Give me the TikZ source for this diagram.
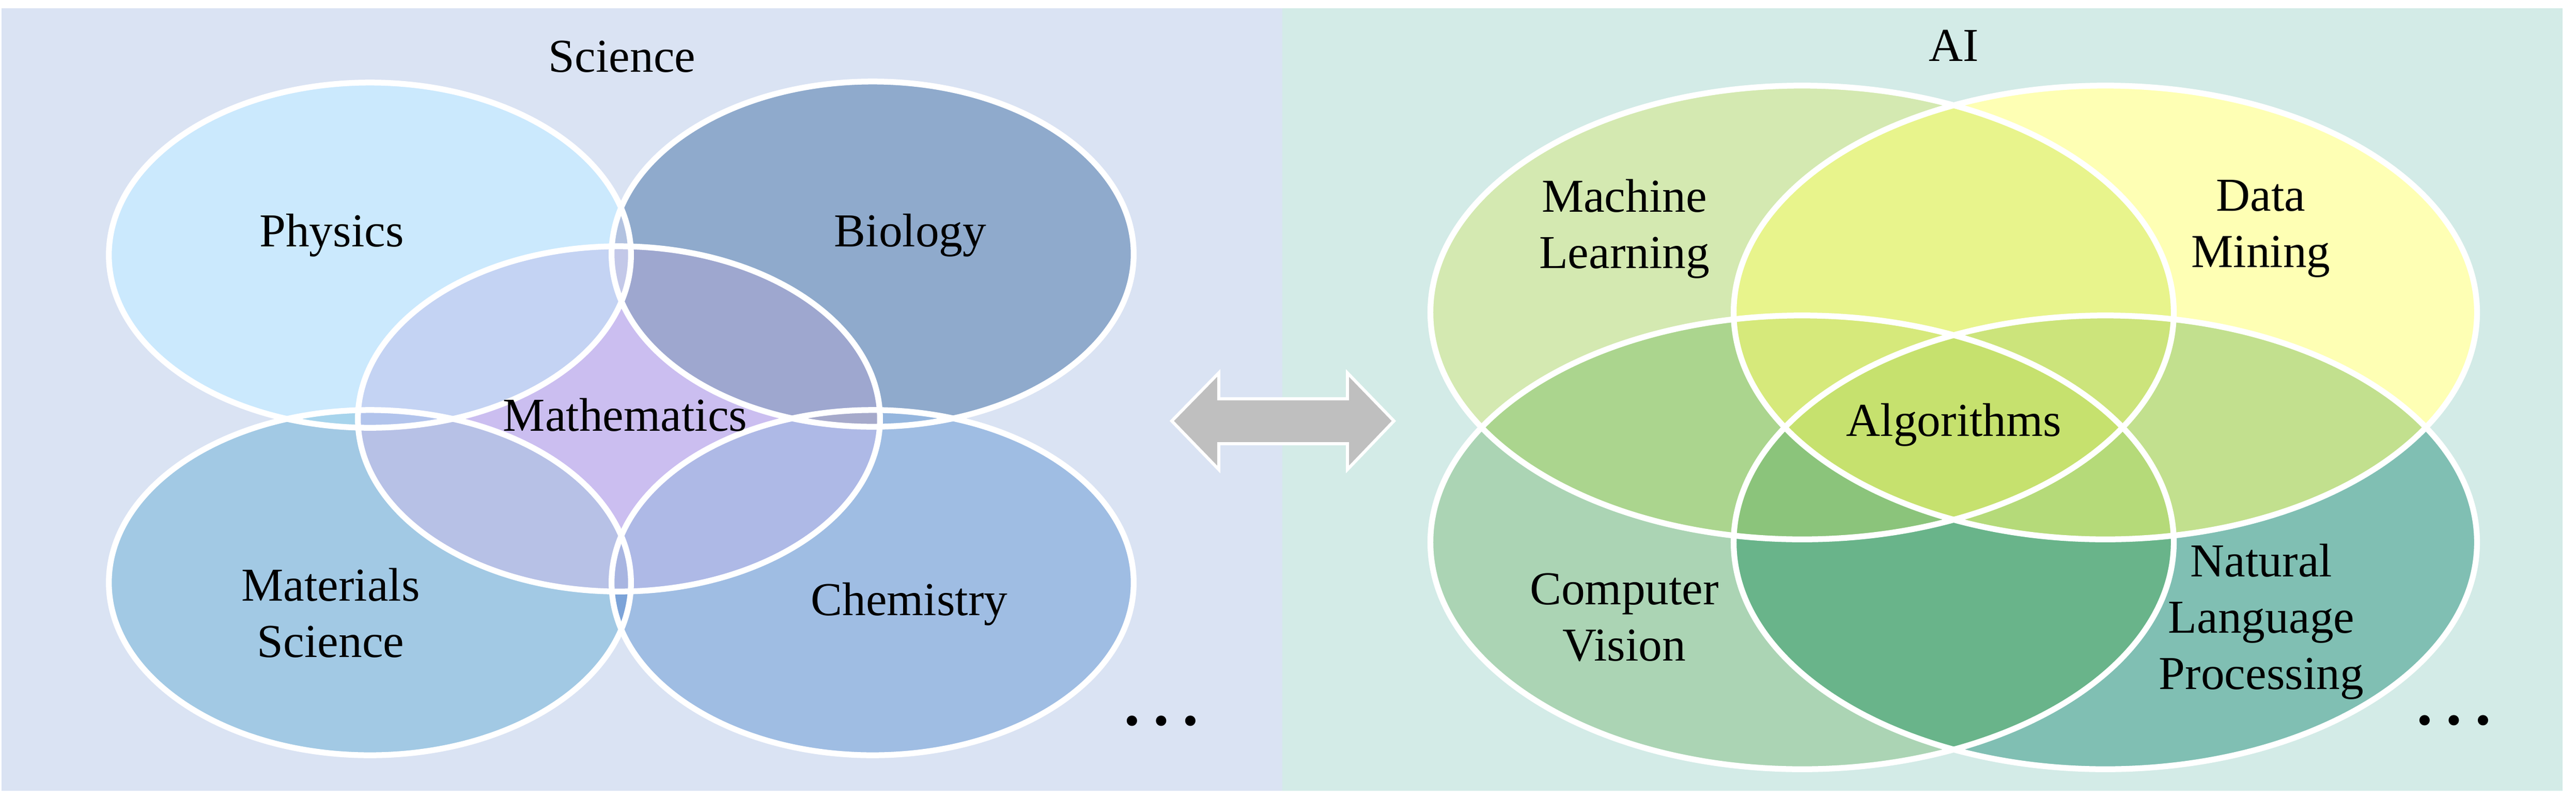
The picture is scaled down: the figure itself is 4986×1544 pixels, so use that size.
\documentclass[tikz,border=0pt]{standalone}
\usepackage{fontspec}
\setmainfont{Liberation Serif}

\definecolor{sciback}{HTML}{DAE3F3}
\definecolor{aiback}{HTML}{D3EBE7}
% science side
\definecolor{physcol}{HTML}{CBE9FD}
\definecolor{biocol}{HTML}{8FAACC}
\definecolor{matcol}{HTML}{A2C9E4}
\definecolor{chemcol}{HTML}{9FBDE3}
\definecolor{mathcol}{HTML}{CBBEF0}
\definecolor{physbio}{HTML}{B2C2E0}
\definecolor{physmat}{HTML}{A7D4EC}
\definecolor{biochem}{HTML}{95B6DE}
\definecolor{matchem}{HTML}{7CA3D8}
\definecolor{mathphys}{HTML}{C4D3F3}
\definecolor{mathbio}{HTML}{9EA7CF}
\definecolor{mathmat}{HTML}{B7C1E6}
\definecolor{mathchem}{HTML}{AEB9E6}
\definecolor{mathphysbio}{HTML}{C3C8E8}
\definecolor{mathphysmat}{HTML}{B2C4EC}
\definecolor{mathbiochem}{HTML}{A6AACB}
\definecolor{mathmatchem}{HTML}{A8B5E1}
% AI side
\definecolor{mlcol}{HTML}{D4E9B1}
\definecolor{dmcol}{HTML}{FEFFB4}
\definecolor{cvcol}{HTML}{ABD4B4}
\definecolor{nlpcol}{HTML}{80BFB3}
\definecolor{mldm}{HTML}{E8F48C}
\definecolor{mlcv}{HTML}{ABD58E}
\definecolor{dmnlp}{HTML}{C2E08E}
\definecolor{cvnlp}{HTML}{69B48A}
\definecolor{mldmcv}{HTML}{D6E97B}
\definecolor{mldmnlp}{HTML}{CCE47B}
\definecolor{mlcvnlp}{HTML}{8BC47B}
\definecolor{dmcvnlp}{HTML}{B5DA79}
\definecolor{allfour}{HTML}{C6E16E}
\definecolor{arrowgray}{HTML}{BFBFBF}

\def\ePhys{(716,494) ellipse [x radius=5.05cm, y radius=3.34cm]}
\def\eBio{(1689,492) ellipse [x radius=5.05cm, y radius=3.34cm]}
\def\eMat{(716,1128) ellipse [x radius=5.05cm, y radius=3.34cm]}
\def\eChem{(1689,1128) ellipse [x radius=5.05cm, y radius=3.34cm]}
\def\eMath{(1198,811) ellipse [x radius=5.05cm, y radius=3.34cm]}
\def\eML{(3488,605) ellipse [x radius=7.19cm, y radius=4.39cm]}
\def\eDM{(4075,605) ellipse [x radius=7.19cm, y radius=4.39cm]}
\def\eCV{(3488,1050) ellipse [x radius=7.19cm, y radius=4.39cm]}
\def\eNLP{(4075,1050) ellipse [x radius=7.19cm, y radius=4.39cm]}

\newcommand{\twofill}[3]{\begin{scope}\clip #1;\fill[#3] #2;\end{scope}}
\newcommand{\threefill}[4]{\begin{scope}\clip #1;\clip #2;\fill[#4] #3;\end{scope}}

\begin{document}
\begin{tikzpicture}[x=0.01cm, y=-0.01cm,
    rim/.style={draw=white, line width=3.2pt},
    field/.style={font=\fontsize{26}{31}\selectfont, align=center, inner sep=0pt},
    etc/.style={font=\fontsize{48}{48}\selectfont, inner sep=0pt}]
    \useasboundingbox (0,0) rectangle (4986,1544);
    \fill[sciback] (3,16) rectangle (2482,1531);
    \fill[aiback] (2482,16) rectangle (4960,1531);

    % science
    \fill[physcol] \ePhys;
    \fill[biocol] \eBio;
    \fill[matcol] \eMat;
    \fill[chemcol] \eChem;
    \fill[mathcol] \eMath;
    \twofill{\ePhys}{\eBio}{physbio}
    \twofill{\ePhys}{\eMat}{physmat}
    \twofill{\eBio}{\eChem}{biochem}
    \twofill{\eMat}{\eChem}{matchem}
    \twofill{\eMath}{\ePhys}{mathphys}
    \twofill{\eMath}{\eBio}{mathbio}
    \twofill{\eMath}{\eMat}{mathmat}
    \twofill{\eMath}{\eChem}{mathchem}
    \threefill{\eMath}{\ePhys}{\eBio}{mathphysbio}
    \threefill{\eMath}{\ePhys}{\eMat}{mathphysmat}
    \threefill{\eMath}{\eBio}{\eChem}{mathbiochem}
    \threefill{\eMath}{\eMat}{\eChem}{mathmatchem}
    \foreach \e in {\ePhys,\eBio,\eMat,\eChem,\eMath}
        \draw[rim] \e;

    % AI
    \fill[mlcol] \eML;
    \fill[dmcol] \eDM;
    \fill[cvcol] \eCV;
    \fill[nlpcol] \eNLP;
    \twofill{\eML}{\eDM}{mldm}
    \twofill{\eML}{\eCV}{mlcv}
    \twofill{\eDM}{\eNLP}{dmnlp}
    \twofill{\eCV}{\eNLP}{cvnlp}
    \threefill{\eML}{\eDM}{\eCV}{mldmcv}
    \threefill{\eML}{\eDM}{\eNLP}{mldmnlp}
    \threefill{\eML}{\eCV}{\eNLP}{mlcvnlp}
    \threefill{\eDM}{\eCV}{\eNLP}{dmcvnlp}
    \begin{scope}
        \clip \eML; \clip \eDM; \clip \eCV;
        \fill[allfour] \eNLP;
    \end{scope}
    \foreach \e in {\eML,\eDM,\eCV,\eNLP}
        \draw[rim] \e;

    % arrow between the two sides
    \draw[fill=arrowgray, draw=white, line width=1.7pt, miter limit=20]
        (2268,815) -- (2359,722) -- (2359,772) -- (2608,772) -- (2608,722)
        -- (2698,815) -- (2608,909) -- (2608,859) -- (2359,859) -- (2359,909) -- cycle;

    \node[field] (science) at (1204,110) {Science};
    \node[field] (phys) at (642,456) {Physics};
    \node[field] (bio) at (1762,456) {Biology};
    \node[field] (math) at (1210,803) {Mathematics};
    \node[field] (mat) at (640,1187) {Materials\\Science};
    \node[field] (chem) at (1760,1170) {Chemistry};
    \node[etc] (moresci) at (2248,1396) {…};

    \node[field] (ai) at (3782,88) {AI};
    \node[field] (ml) at (3144,443) {Machine\\Learning};
    \node[field] (dm) at (4376,443) {Data\\Mining};
    \node[field] (algo) at (3782,823) {Algorithms};
    \node[field] (cv) at (3144,1195) {Computer\\Vision};
    \node[field] (nlp) at (4377,1204) {Natural\\Language\\Processing};
    \node[etc] (moreai) at (4750,1395) {…};
\end{tikzpicture}
\end{document}
